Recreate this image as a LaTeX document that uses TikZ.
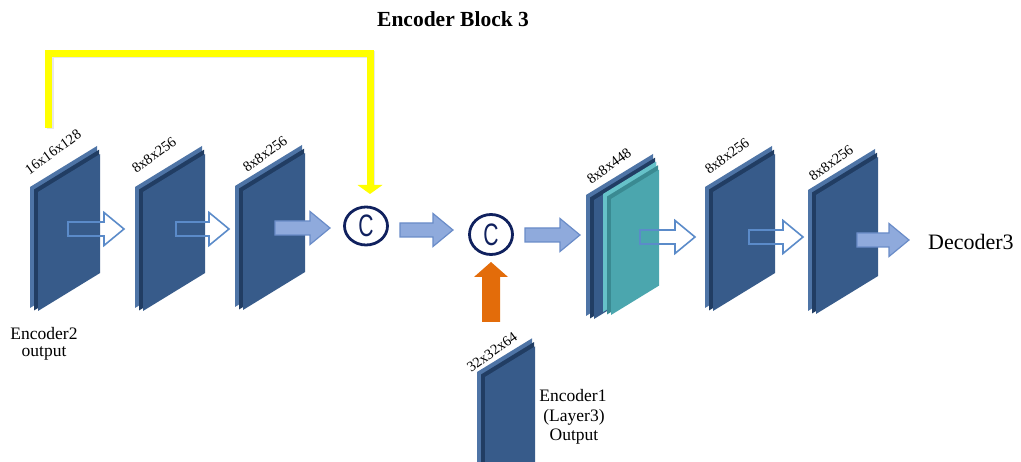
\documentclass[tikz,border=0pt]{standalone}
\usepackage{fontspec}
\usepackage{graphicx}
\setmainfont{Liberation Serif}
\newfontfamily\sansC{Liberation Sans}
\usetikzlibrary{shapes.geometric}
\definecolor{lyfront}{HTML}{375B8A}
\definecolor{lyback}{HTML}{4E74A6}
\definecolor{lystripe}{HTML}{213D63}
\definecolor{tlfront}{HTML}{4BA6AE}
\definecolor{tlback}{HTML}{66C2C9}
\definecolor{tlstripe}{HTML}{3A8A92}
\definecolor{arrfill}{HTML}{8FAADC}
\definecolor{arrline}{HTML}{6A8CC8}
\definecolor{holline}{HTML}{5B8BC9}
\definecolor{navyC}{HTML}{10215E}
\definecolor{orangeC}{HTML}{E36C0A}
\definecolor{yellowC}{HTML}{FFFF00}
% parallelogram: x y W H colour
\newcommand{\plate}[5]{%
  \fill[#5] ({#1},{-(#2)}) -- ++({#3},{0.612*(#3)}) -- ++(0,{-(#4)}) -- ++({-(#3)},{-0.612*(#3)}) -- cycle;}
% layer: x y W H back stripe front name
\newcommand{\layerbox}[8]{%
  \coordinate (#8) at (#1,-#2);
  \plate{#1}{#2}{#3}{#4}{#5}
  \plate{#1+4}{#2+2.5}{#3-2}{#4}{#6}
  \plate{#1+8}{#2+5}{#3-5}{#4-2}{#7}}
% block arrow: x1 x2 yc style
\newcommand{\blockarrow}[4]{%
  \draw[#4] (#1,-#3+7) -- (#2-20,-#3+7) -- (#2-20,-#3+16.5) -- (#2,-#3)
    -- (#2-20,-#3-16.5) -- (#2-20,-#3-7) -- (#1,-#3-7) -- cycle;}
\tikzset{
  filledarrow/.style={fill=arrfill, draw=arrline, line width=1.2pt, line join=miter},
  hollowarrow/.style={draw=holline, line width=1.6pt, line join=miter},
  dimlabel/.style={font=\fontsize{14.5}{15}\selectfont, rotate=36, inner sep=0pt},
  plainlabel/.style={font=\fontsize{17.5}{20}\selectfont, inner sep=0pt},
  concat/.style={ellipse, draw=navyC, line width=2.8pt, minimum width=43pt, minimum height=38pt, inner sep=0pt,
     font=\sansC\fontsize{31}{31}\selectfont, text=navyC}
}
\begin{document}
\begin{tikzpicture}[x=1pt,y=1pt]
\useasboundingbox (0,0) rectangle (1021,-462);
\clip (0,0) rectangle (1021,-462);

% title
\node[anchor=base west, inner sep=0pt, font=\bfseries\fontsize{21.5}{22}\selectfont] (title) at (377,-27) {Encoder Block 3};

% yellow skip connection
\draw[black!30, line width=7pt, opacity=0.3] (50,-129.5) |- (371.5,-55) -- (371.5,-187);
\draw[yellowC, line width=7pt, line join=miter] (48.5,-128) |- (370,-53.5) -- (370,-186);
\fill[yellowC] (357.5,-185) -- (382.5,-185) -- (370,-194) -- cycle;

% layers
\layerbox{30}{187}{67}{121}{lyback}{lystripe}{lyfront}{L1}
\layerbox{135}{187}{67}{121}{lyback}{lystripe}{lyfront}{L2}
\layerbox{235}{186}{67}{121}{lyback}{lystripe}{lyfront}{L3}
\layerbox{586}{195}{67}{121}{lyback}{lystripe}{lyfront}{L4}
\layerbox{603}{194}{53}{118}{tlback}{tlstripe}{tlfront}{L4t}
\layerbox{705}{187}{67}{121}{lyback}{lystripe}{lyfront}{L5}
\layerbox{808}{190}{67}{121}{lyback}{lystripe}{lyfront}{L6}
\layerbox{477}{372}{55}{130}{lyback}{lystripe}{lyfront}{E1}

% dimension labels
\node[dimlabel] (d1) at (53,-152) {16x16x128};
\node[dimlabel] (d2) at (154,-155) {8x8x256};
\node[dimlabel] (d3) at (265,-154) {8x8x256};
\node[dimlabel] (d4) at (609,-166) {8x8x448};
\node[dimlabel] (d5) at (727,-156) {8x8x256};
\node[dimlabel] (d6) at (831,-163) {8x8x256};
\node[dimlabel] (d7) at (492,-352) {32x32x64};

% concatenation nodes
\node[concat] (c1) at (366,-226) {\scalebox{0.68}[1]{C}};
\node[concat, minimum height=40pt] (c2) at (491,-234.5) {\scalebox{0.68}[1]{C}};

% arrows
\blockarrow{68}{124}{229}{hollowarrow}
\blockarrow{176}{229}{229}{hollowarrow}
\blockarrow{275}{330}{228}{filledarrow}
\blockarrow{400}{453}{230}{filledarrow}
\blockarrow{525}{580}{235}{filledarrow}
\blockarrow{640}{695}{237}{hollowarrow}
\blockarrow{749}{803}{237}{hollowarrow}
\blockarrow{857}{909}{240}{filledarrow}

% orange arrow into c2
\fill[orangeC] (482,-322) -- (482,-277) -- (474,-277) -- (491,-262) -- (508,-277) -- (500,-277) -- (500,-322) -- cycle;

% text labels
\node[anchor=base west, inner sep=0pt, font=\fontsize{22}{24}\selectfont] (dec) at (928,-250) {Decoder3};
\node[plainlabel, anchor=base] (e2a) at (44,-340) {Encoder2};
\node[plainlabel, anchor=base] (e2b) at (44,-357) {output};
\node[plainlabel, anchor=base] (e1a) at (573,-402) {Encoder1};
\node[plainlabel, anchor=base] (e1b) at (574,-421) {(Layer3)};
\node[plainlabel, anchor=base] (e1c) at (574,-441) {Output};
\end{tikzpicture}
\end{document}
